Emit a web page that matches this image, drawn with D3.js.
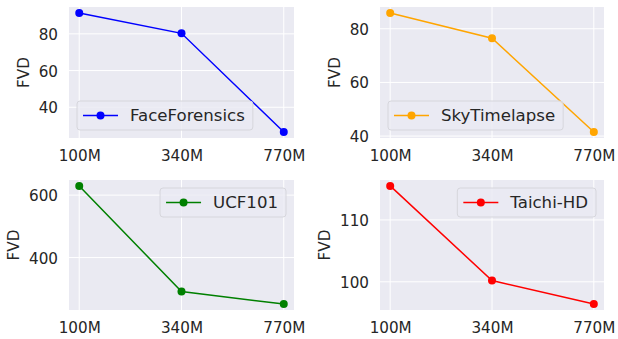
<!DOCTYPE html>
<html>
<head>
<meta charset="utf-8">
<script src="https://cdn.jsdelivr.net/npm/d3@7"></script>
<style>
html,body{margin:0;padding:0;background:#fff;}
svg{display:block;}
text{font-family:"DejaVu Sans",sans-serif;fill:#262626;}
</style>
</head>
<body>
<svg id="chart" width="618" height="339"></svg>
<script>
const categories = ["100M", "340M", "770M"];

const faceForensics = [91.4, 80.3, 26.5];
const skyTimelapse = [85.9, 76.5, 41.5];
const ucf101 = [629.5, 291, 251];
const taichiHD = [115.5, 100.2, 96.4];

const ticksFace = [40, 60, 80];
const ticksSky = [40, 60, 80];
const ticksUcf = [400, 600];
const ticksTaichi = [100, 110];

const names = ["FaceForensics", "SkyTimelapse", "UCF101", "Taichi-HD"];
const colors = ["#0000ff", "#ffa500", "#008000", "#ff0000"];
const yLabel = "FVD";

const panels = [
  {name: names[0], values: faceForensics, ticks: ticksFace, color: colors[0], box: [69, 7, 294, 138], legend: "lowerleft"},
  {name: names[1], values: skyTimelapse, ticks: ticksSky, color: colors[1], box: [380, 7, 604, 138], legend: "lowerleft"},
  {name: names[2], values: ucf101, ticks: ticksUcf, color: colors[2], box: [69, 180, 294, 310], legend: "upperright"},
  {name: names[3], values: taichiHD, ticks: ticksTaichi, color: colors[3], box: [380, 180, 604, 310], legend: "upperright"}
];

const svg = d3.select("#chart");
const FS = 15.2;
const LFS = 16.6;

panels.forEach(p => {
  const [x0, y0, x1, y1] = p.box;
  const g = svg.append("g");
  g.append("rect").attr("x", x0).attr("y", y0).attr("width", x1 - x0).attr("height", y1 - y0).attr("fill", "#eaeaf2");

  const x = d3.scaleLinear().domain([-0.1, categories.length - 0.9]).range([x0, x1]);
  const lo = d3.min(p.values), hi = d3.max(p.values), m = (hi - lo) * 0.05;
  const y = d3.scaleLinear().domain([lo - m, hi + m]).range([y1, y0]);

  // grid
  g.selectAll(".vg").data(categories).enter().append("line")
    .attr("x1", (d, i) => x(i)).attr("x2", (d, i) => x(i))
    .attr("y1", y0).attr("y2", y1).attr("stroke", "#fff").attr("stroke-width", 1);
  g.selectAll(".hg").data(p.ticks).enter().append("line")
    .attr("x1", x0).attr("x2", x1).attr("y1", d => y(d)).attr("y2", d => y(d))
    .attr("stroke", "#fff").attr("stroke-width", 1);

  // axes (library axes, no domain lines/ticks)
  const xAxis = d3.axisBottom(x).tickValues(d3.range(categories.length)).tickFormat(i => categories[i]).tickSize(0).tickPadding(0);
  const xa = g.append("g").attr("transform", `translate(0,${y1})`).call(xAxis);
  xa.select(".domain").remove();
  xa.selectAll("text").attr("y", 22.5).attr("dy", null).attr("font-size", FS)
    .style("font-family", '"DejaVu Sans",sans-serif').attr("fill", "#262626");

  const yAxis = d3.axisLeft(y).tickValues(p.ticks).tickSize(0).tickPadding(11);
  const ya = g.append("g").attr("transform", `translate(${x0},0)`).call(yAxis);
  ya.select(".domain").remove();
  ya.selectAll("text").attr("font-size", FS).attr("dy", "0.36em")
    .style("font-family", '"DejaVu Sans",sans-serif').attr("fill", "#262626");

  let minLeft = Infinity;
  ya.selectAll("text").each(function(){ const b = this.getBBox(); minLeft = Math.min(minLeft, x0 + b.x); });
  g.append("text").attr("transform", `translate(${minLeft - 10},${(y0 + y1) / 2}) rotate(-90)`)
    .attr("text-anchor", "middle").attr("font-size", FS).text(yLabel);

  // line
  const line = d3.line().x((d, i) => x(i)).y(d => y(d));
  g.append("path").datum(p.values).attr("d", line).attr("fill", "none").attr("stroke", p.color).attr("stroke-width", 1.5);
  g.selectAll(".pt").data(p.values).enter().append("circle")
    .attr("cx", (d, i) => x(i)).attr("cy", d => y(d)).attr("r", 4).attr("fill", p.color);

  // legend
  const lg = g.append("g");
  const frame = lg.append("rect");
  const txt = lg.append("text").attr("font-size", LFS).attr("x", 53).attr("y", 14.5).attr("dy", "0.36em").text(p.name);
  const tw = txt.node().getComputedTextLength();
  const w = 53 + tw + 8, h = 29;
  frame.attr("x", 0).attr("y", 0).attr("width", w).attr("height", h).attr("rx", 3)
    .attr("fill", "#eaeaf2").attr("fill-opacity", 0.8).attr("stroke", "#d6d6dc").attr("stroke-width", 1);
  lg.append("line").attr("x1", 6).attr("x2", 41).attr("y1", 14.5).attr("y2", 14.5).attr("stroke", p.color).attr("stroke-width", 1.5);
  lg.append("circle").attr("cx", 23.5).attr("cy", 14.5).attr("r", 4).attr("fill", p.color);
  let lx, ly;
  if (p.legend === "lowerleft") { lx = x0 + 8; ly = y1 - 8 - h; }
  else { lx = x1 - 8 - w; ly = y0 + 8; }
  lg.attr("transform", `translate(${lx},${ly})`);
});
</script>
</body>
</html>
